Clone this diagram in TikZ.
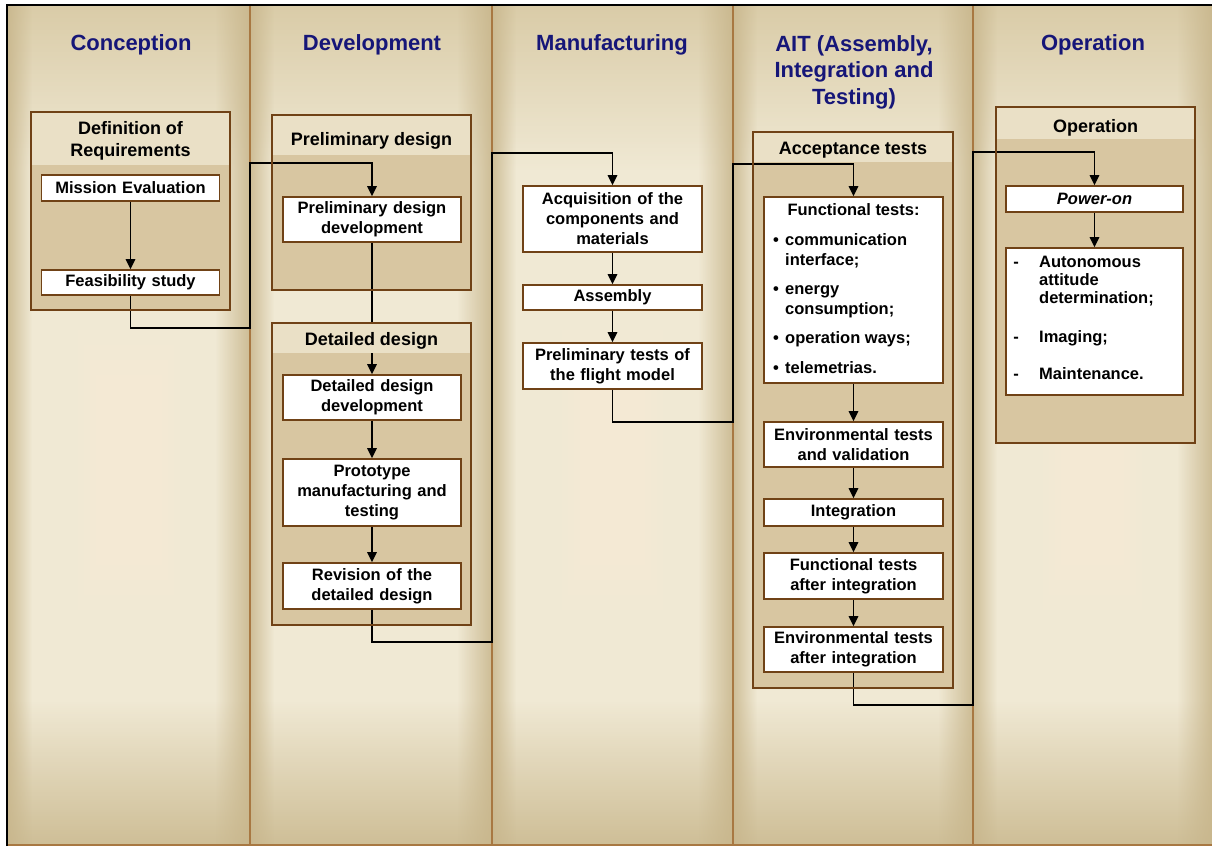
\documentclass[tikz,border=0pt]{standalone}
\usepackage{fontspec}
\setmainfont{Liberation Sans}
\usetikzlibrary{arrows.meta,calc}
\definecolor{hdr}{RGB}{22,22,120}
\definecolor{brn}{RGB}{112,66,22}
\definecolor{sepc}{RGB}{168,120,66}
\definecolor{grp}{RGB}{216,198,161}
\definecolor{bandc}{RGB}{234,224,198}
\definecolor{cedge}{RGB}{200,182,140}
\definecolor{cmid}{RGB}{240,233,212}
\definecolor{ctop}{RGB}{218,204,168}
\definecolor{cbot}{RGB}{206,190,150}
\definecolor{cglow}{RGB}{252,240,212}
\begin{document}
\begin{tikzpicture}[x=1pt,y=-1pt,
  hdrtxt/.style={font=\fontsize{22}{26.5}\selectfont\bfseries, text=hdr, align=center, inner sep=0pt},
  grptxt/.style={font=\fontsize{18}{22}\selectfont\bfseries, align=center, inner sep=0pt},
  box/.style={draw=brn, line width=1.7pt, fill=white, inner sep=0pt, align=center,
    font=\fontsize{16.5}{20}\selectfont\bfseries, text width=172pt, minimum width=178pt},
  itemtxt/.style={font=\fontsize{16.5}{20}\selectfont\bfseries, inner sep=0pt},
  arr/.style={-{Triangle[length=10pt,width=9.5pt]}, line width=1.6pt, black},
  grpborder/.style={draw=brn, line width=1.7pt},
  colsep/.style={draw=sepc, line width=1.3pt}
]
\useasboundingbox (0,0) rectangle (1212,846);
\fill[white] (0,0) rectangle (1212,846);

% column backgrounds, gradients built from thin strips
\fill[cmid] (8,6) rectangle (1212,845);
\foreach \j in {0,...,81}{
  \pgfmathsetmacro\op{1-\j/82}
  \fill[ctop, opacity=\op] (8,6+2*\j) rectangle (1212,8+2*\j);
}
\foreach \j in {0,...,72}{
  \pgfmathsetmacro\op{\j/73}
  \fill[cbot, opacity=\op] (8,700+2*\j) rectangle (1212,702+2*\j);
}
\foreach \a/\b in {8/250,250/492,492/733,733/973,973/1212}{
  \foreach \g in {0,...,3}{
    \fill[cglow, opacity=0.12] (\a+70+6*\g,330+15*\g) rectangle (\b-70-6*\g,610-15*\g);
  }
  \foreach \i in {0,...,23}{
    \pgfmathsetmacro\op{0.85*(1-\i/24)}
    \fill[cedge, opacity=\op] (\a+\i,6) rectangle (\a+\i+1,845);
  }
  \foreach \i in {0,...,33}{
    \pgfmathsetmacro\op{0.85*(\i+1)/34}
    \fill[cedge, opacity=\op] (\b-34+\i,6) rectangle (\b-33+\i,845);
  }
}
% column separators and frame
\foreach \x in {250,492,733,973}{ \draw[colsep] (\x,6) -- (\x,845); }
\draw[sepc, line width=1.5pt] (7,845) -- (1212,845);
\draw[black, line width=2pt] (7,846) -- (7,5) -- (1212,5);

% headers
\node[hdrtxt] (hc) at (131,45) {Conception};
\node[hdrtxt] (hd) at (372,45) {Development};
\node[hdrtxt] (hm) at (612,45) {Manufacturing};
\node[hdrtxt] (ha) at (854,72) {AIT (Assembly,\\Integration and\\Testing)};
\node[hdrtxt] (ho) at (1093,45) {Operation};

% group bodies
\fill[grp] (31,112) rectangle (230,310);
\fill[grp] (272,115) rectangle (471,290);
\fill[grp] (272,323) rectangle (471,625);
\fill[grp] (753,132) rectangle (953,688);
\fill[grp] (996,107) rectangle (1195,443);

% boxes
\node[box, minimum height=26pt] (mis) at (130.5,188) {Mission Evaluation};
\node[box, minimum height=25pt] (fea) at (130.5,282.5) {Feasibility study};
\node[box, minimum height=45pt] (pdd) at (372,219.5) {Preliminary design\\development};
\node[box, minimum height=45pt] (ddd) at (372,397.5) {Detailed design\\development};
\node[box, minimum height=67pt] (pmt) at (372,492.5) {Prototype\\manufacturing and\\testing};
\node[box, minimum height=46pt] (rev) at (372,586) {Revision of the\\detailed design};
\node[box, minimum height=66pt, minimum width=179pt] (acq) at (612.5,219) {Acquisition of the\\components and\\materials};
\node[box, minimum height=25pt, minimum width=179pt] (asm) at (612.5,297.5) {Assembly};
\node[box, minimum height=46pt, minimum width=179pt] (ptf) at (612.5,366) {Preliminary tests of\\the flight model};
\node[box, minimum height=186pt, minimum width=179pt] (fun) at (853.5,290) {};
\node[box, minimum height=45pt, minimum width=179pt] (env) at (853.5,444.5) {Environmental tests\\and validation};
\node[box, minimum height=27pt, minimum width=179pt] (int) at (853.5,512.5) {Integration};
\node[box, minimum height=46pt, minimum width=179pt] (fai) at (853.5,576) {Functional tests\\after integration};
\node[box, minimum height=45pt, minimum width=179pt] (eai) at (853.5,649.5) {Environmental tests\\after integration};
\node[box, minimum height=26pt, minimum width=177pt] (pow) at (1094.5,199) {\itshape Power-on};
\node[box, minimum height=147pt, minimum width=177pt] (lst) at (1094.5,321.5) {};

% bend coordinates
\coordinate (r1a) at (250,328);
\coordinate (r1b) at (250,163);
\coordinate (r2a) at (492,642);
\coordinate (r2b) at (492,153);
\coordinate (r3a) at (733,422);
\coordinate (r3b) at (733,164);
\coordinate (r4a) at (973,705);
\coordinate (r4b) at (973,152);

% connectors
\draw[arr] (mis.south) -- (fea.north);
\draw[arr] (fea.south) |- (r1a) -- (r1b) -| (pdd.north);
\draw[arr] (pdd.south) -- (ddd.north);
\draw[arr] (ddd.south) -- (pmt.north);
\draw[arr] (pmt.south) -- (rev.north);
\draw[arr] (rev.south) |- (r2a) -- (r2b) -| (acq.north);
\draw[arr] (acq.south) -- (asm.north);
\draw[arr] (asm.south) -- (ptf.north);
\draw[arr] (ptf.south) |- (r3a) -- (r3b) -| (fun.north);
\draw[arr] (fun.south) -- (env.north);
\draw[arr] (env.south) -- (int.north);
\draw[arr] (int.south) -- (fai.north);
\draw[arr] (fai.south) -- (eai.north);
\draw[arr] (eai.south) |- (r4a) -- (r4b) -| (pow.north);
\draw[arr] (pow.south) -- (lst.north);

% group bands (over connectors)
\fill[bandc] (31,112) rectangle (230,165);
\fill[bandc] (272,115) rectangle (471,155);
\fill[bandc] (272,323) rectangle (471,353);
\fill[bandc] (753,132) rectangle (953,162);
\fill[bandc] (996,107) rectangle (1195,139);

% group borders
\draw[grpborder] (31,112) rectangle (230,310);
\draw[grpborder] (272,115) rectangle (471,290);
\draw[grpborder] (272,323) rectangle (471,625);
\draw[grpborder] (753,132) rectangle (953,688);
\draw[grpborder] (996,107) rectangle (1195,443);

% group titles
\node[grptxt] (tdef) at (130.5,141) {Definition of\\Requirements};
\node[grptxt] (tpre) at (371.5,141) {Preliminary design};
\node[grptxt] (tdet) at (371.5,341) {Detailed design};
\node[grptxt] (tacc) at (853,150) {Acceptance tests};
\node[grptxt] (tope) at (1095.5,128) {Operation};

% functional tests content
\node[itemtxt, anchor=base] (f0) at (853.5,215) {Functional tests:};
\node[itemtxt, anchor=base] (b1) at (776,245) {•};
\node[itemtxt, anchor=base west] (f1) at (785,245) {communication};
\node[itemtxt, anchor=base west] (f2) at (785,265) {interface;};
\node[itemtxt, anchor=base] (b2) at (776,294) {•};
\node[itemtxt, anchor=base west] (f3) at (785,294) {energy};
\node[itemtxt, anchor=base west] (f4) at (785,314) {consumption;};
\node[itemtxt, anchor=base] (b3) at (776,343) {•};
\node[itemtxt, anchor=base west] (f5) at (785,343) {operation ways;};
\node[itemtxt, anchor=base] (b4) at (776,373) {•};
\node[itemtxt, anchor=base west] (f6) at (785,373) {telemetrias.};

% operation list content
\node[itemtxt, anchor=base] (d1) at (1016,267) {-};
\node[itemtxt, anchor=base west] (o1) at (1039,267) {Autonomous};
\node[itemtxt, anchor=base west] (o2) at (1039,285) {attitude};
\node[itemtxt, anchor=base west] (o3) at (1039,303) {determination;};
\node[itemtxt, anchor=base] (d2) at (1016,342) {-};
\node[itemtxt, anchor=base west] (o4) at (1039,342) {Imaging;};
\node[itemtxt, anchor=base] (d3) at (1016,379) {-};
\node[itemtxt, anchor=base west] (o5) at (1039,379) {Maintenance.};
\end{tikzpicture}
\end{document}
